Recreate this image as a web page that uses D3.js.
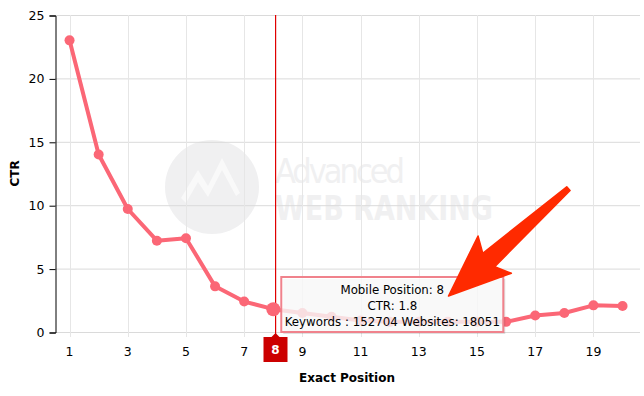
<!DOCTYPE html>
<html>
<head>
<meta charset="utf-8">
<script src="https://cdn.jsdelivr.net/npm/d3@7"></script>
<style>
  body { margin: 0; background: #fff; }
  svg { font-family: "DejaVu Sans", Verdana, sans-serif; }
</style>
</head>
<body>
<div id="chart"></div>
<script>
let width = 644,
    height = 396;

// exact position vs CTR (%)
let positions = [1, 2, 3, 4, 5, 6, 7, 8, 9, 10, 11, 12, 13, 14, 15, 16, 17, 18, 19, 20];
let ctr = [23.0, 14.0, 9.7, 7.2, 7.4, 3.6, 2.4, 1.8, 1.5, 1.2, 0.9, 0.8, 0.8, 0.8, 0.8, 0.8, 1.3, 1.5, 2.1, 2.05];
let xTicks = [1, 3, 5, 7, 9, 11, 13, 15, 17, 19];
let yTicks = [0, 5, 10, 15, 20, 25];

let hovered = 8;
let tooltipLines = ["Mobile Position: 8", "CTR: 1.8", "Keywords : 152704 Websites: 18051"];

let data = positions.map((p, i) => ({ pos: p, ctr: ctr[i] }));

let margin = { top: 15, right: 4, bottom: 64, left: 55 };

let x = d3.scaleLinear()
    .domain([0.5, 20.6])
    .range([margin.left, width - margin.right]);

let y = d3.scaleLinear()
    .domain([0, 25])
    .range([height - margin.bottom, margin.top]);

let svg = d3.select("#chart").append("svg")
    .attr("width", width)
    .attr("height", height);

// watermark
let wm = svg.append("g").attr("fill", "#f0f0f1");
wm.append("circle").attr("cx", 212).attr("cy", 187).attr("r", 47);
wm.append("path")
    .attr("fill", "#fff")
    .attr("opacity", 0.6)
    .attr("d", "M181,198 L198,170 L208,186 L222,158 L240,193 L236,196 L222,170 L208,197 L198,182 L186,203 Z");
wm.append("text")
    .attr("x", 275).attr("y", 183)
    .style("font-family", "'Liberation Sans Narrow', 'DejaVu Sans Condensed', sans-serif")
    .style("font-size", "34px")
    .style("font-weight", "300")
    .attr("textLength", 130)
    .text("Advanced");
wm.append("text")
    .attr("x", 275).attr("y", 220)
    .style("font-family", "'DejaVu Sans Condensed', 'Liberation Sans Narrow', sans-serif")
    .style("font-size", "34px")
    .style("font-weight", "bold")
    .attr("textLength", 218)
    .attr("lengthAdjust", "spacingAndGlyphs")
    .text("WEB RANKING");

// grid
svg.append("g")
    .selectAll("line")
    .data(yTicks)
    .enter().append("line")
    .attr("x1", margin.left)
    .attr("x2", width - margin.right)
    .attr("y1", d => y(d) + 0.5)
    .attr("y2", d => y(d) + 0.5)
    .attr("stroke", "#dadada");

svg.append("g")
    .selectAll("line")
    .data(xTicks)
    .enter().append("line")
    .attr("x1", d => Math.round(x(d)) + 0.5)
    .attr("x2", d => Math.round(x(d)) + 0.5)
    .attr("y1", margin.top)
    .attr("y2", y(0) + 5)
    .attr("stroke", "#e6e6e6");

// y axis
let yAxis = svg.append("g")
    .attr("transform", "translate(" + (margin.left + 0.5) + ",0.5)")
    .call(d3.axisLeft(y).tickValues(yTicks).tickSize(6).tickPadding(5));
yAxis.select(".domain").attr("stroke", "#000");
yAxis.selectAll(".tick line").attr("stroke", "#000");
yAxis.selectAll("text")
    .style("font-size", "12.5px")
    .style("font-family", "'DejaVu Sans', Verdana, sans-serif")
    .attr("fill", "#000");

// x tick labels
svg.append("g")
    .selectAll("text")
    .data(xTicks)
    .enter().append("text")
    .attr("x", d => x(d))
    .attr("y", y(0) + 24)
    .attr("text-anchor", "middle")
    .style("font-size", "12.5px")
    .text(d => d);

// axis titles
svg.append("text")
    .attr("x", 347)
    .attr("y", 382)
    .attr("text-anchor", "middle")
    .style("font-size", "12px")
    .style("font-weight", "bold")
    .text("Exact Position");

svg.append("text")
    .attr("transform", "translate(19," + ((margin.top + y(0)) / 2) + ") rotate(-90)")
    .attr("text-anchor", "middle")
    .style("font-size", "12px")
    .style("font-weight", "bold")
    .text("CTR");

// crosshair
let cx = Math.round(x(hovered)) + 2;
svg.append("rect")
    .attr("x", cx).attr("width", 1.2)
    .attr("y", margin.top).attr("height", y(0) + 5 - margin.top)
    .attr("fill", "#e00000");

// line
let line = d3.line()
    .x(d => x(d.pos))
    .y(d => y(d.ctr));

svg.append("path")
    .datum(data)
    .attr("fill", "none")
    .attr("stroke", "#fb6776")
    .attr("stroke-width", 4)
    .attr("stroke-linejoin", "round")
    .attr("d", line);

svg.append("g")
    .selectAll("circle")
    .data(data)
    .enter().append("circle")
    .attr("cx", d => x(d.pos))
    .attr("cy", d => y(d.ctr))
    .attr("r", d => d.pos === hovered ? 7 : 5)
    .attr("fill", "#fb6776");

// x label flag for hovered position
let fx = cx + 0.5;
let flag = svg.append("g");
flag.append("path")
    .attr("fill", "#cc0000")
    .attr("d", "M" + (fx - 12) + "," + (y(0) + 5) + " L" + (fx - 4) + "," + (y(0) + 5) +
         " L" + fx + "," + (y(0) + 1) + " L" + (fx + 4) + "," + (y(0) + 5) +
         " L" + (fx + 12) + "," + (y(0) + 5) + " L" + (fx + 12) + "," + (y(0) + 30) +
         " L" + (fx - 12) + "," + (y(0) + 30) + " Z");
flag.append("text")
    .attr("x", fx)
    .attr("y", y(0) + 22)
    .attr("text-anchor", "middle")
    .attr("fill", "#fff")
    .style("font-size", "12px")
    .style("font-weight", "bold")
    .text(hovered);

// tooltip
let tipX = x(hovered) + 8,
    tipY = 277,
    tipW = 222,
    tipH = 55;
let tip = svg.append("g");
tip.append("rect")
    .attr("x", tipX + 2).attr("y", tipY + 2)
    .attr("width", tipW).attr("height", tipH)
    .attr("fill", "#000").attr("opacity", 0.12);
tip.append("rect")
    .attr("x", tipX).attr("y", tipY)
    .attr("width", tipW).attr("height", tipH)
    .attr("fill", "#fff").attr("fill-opacity", 0.8)
    .attr("stroke", "#f0828c").attr("stroke-width", 2);
tip.selectAll("text.tip")
    .data(tooltipLines)
    .enter().append("text")
    .attr("class", "tip")
    .attr("x", tipX + tipW / 2)
    .attr("y", (d, i) => tipY + 17 + i * 16)
    .attr("text-anchor", "middle")
    .style("font-size", "11.8px")
    .text(d => d);

// annotation arrow (data coordinates)
let tail = [x(18.14), y(11.3)],
    tipPt = [x(14.02), y(2.84)];
let ang = Math.atan2(tipPt[1] - tail[1], tipPt[0] - tail[0]);
let len = Math.hypot(tipPt[0] - tail[0], tipPt[1] - tail[1]);
let headLen = 62, headW = 25, shaftW0 = 2.5, shaftW1 = 9;
function pt(along, across) {
    return [tail[0] + Math.cos(ang) * along - Math.sin(ang) * across,
            tail[1] + Math.sin(ang) * along + Math.cos(ang) * across];
}
let arrowPts = [
    pt(0, -shaftW0), pt(len - headLen + 8, -shaftW1), pt(len - headLen, -headW),
    pt(len, 0),
    pt(len - headLen, headW), pt(len - headLen + 8, shaftW1), pt(0, shaftW0)
];
svg.append("path")
    .attr("d", "M" + arrowPts.map(p => p.join(",")).join("L") + "Z")
    .attr("fill", "#ff2a00")
    .attr("stroke", "#ff2a00")
    .attr("stroke-width", 1.5)
    .attr("stroke-linejoin", "round");
</script>
</body>
</html>
